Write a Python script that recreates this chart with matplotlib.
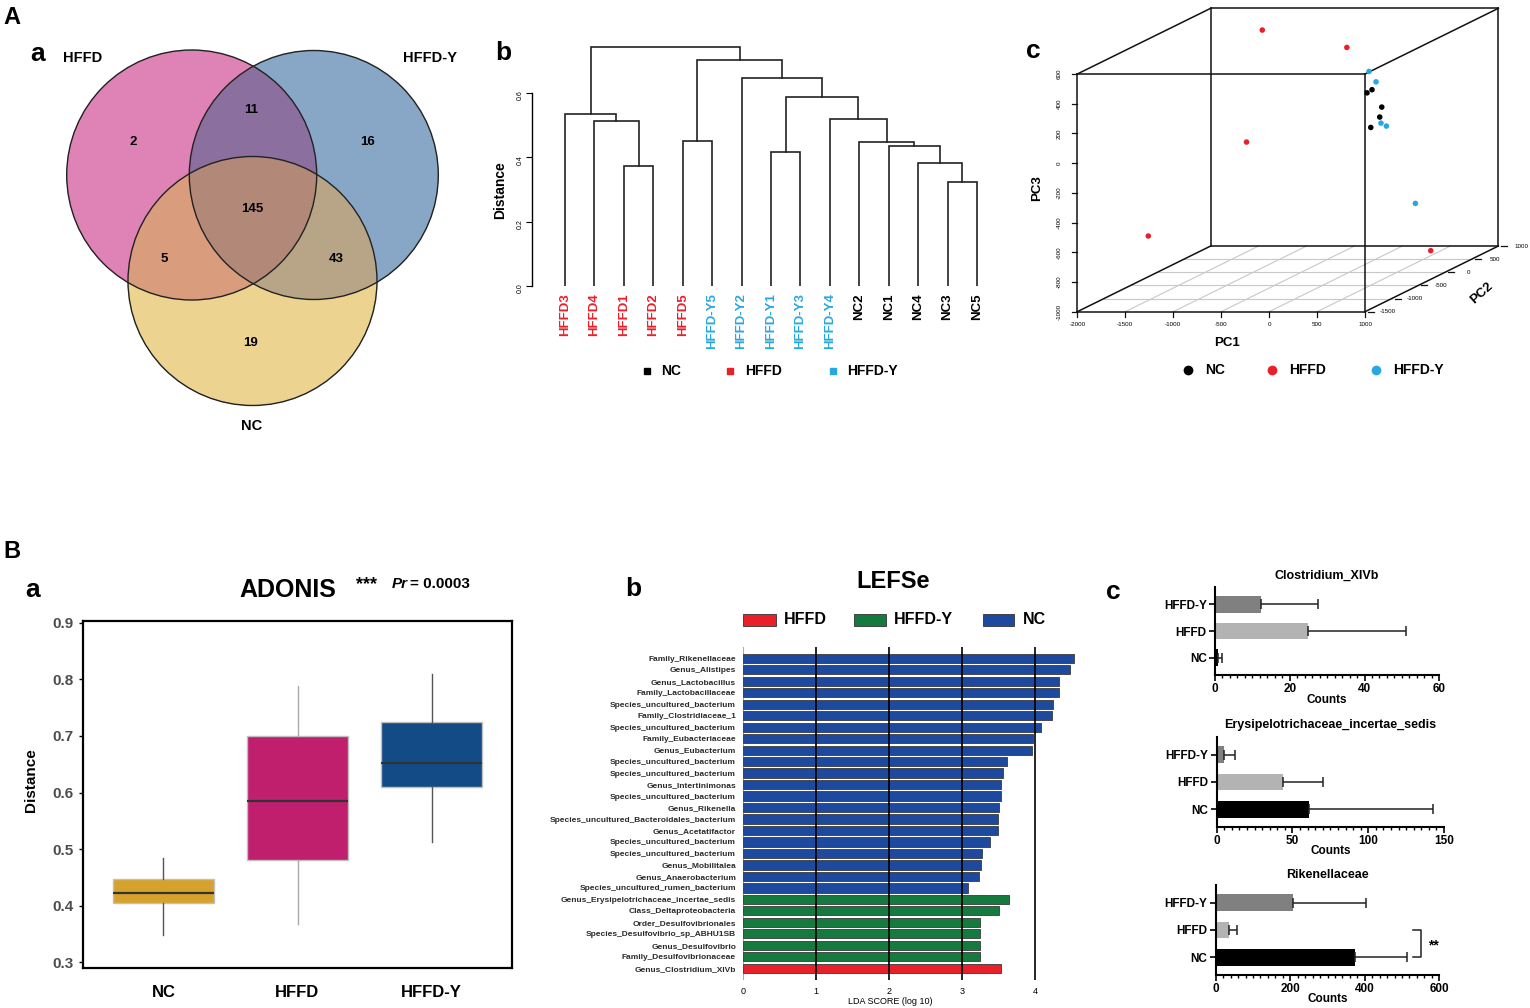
import numpy as np
import matplotlib.pyplot as plt
from matplotlib.patches import Circle, Rectangle
from matplotlib.lines import Line2D
from matplotlib.colors import to_rgba
from matplotlib.ticker import MultipleLocator

plt.rcParams['font.family'] = ['Liberation Sans', 'DejaVu Sans']

# ---------------- data ----------------
# A-a venn: HFFD only, HFFD-Y only, NC only, HFFD&HFFD-Y, HFFD&NC, HFFD-Y&NC, all three
venn_sets = ['HFFD', 'HFFD-Y', 'NC']
venn_counts = [2, 16, 19, 11, 5, 43, 145]

# A-b dendrogram
leaf_labels = ['HFFD3', 'HFFD4', 'HFFD1', 'HFFD2', 'HFFD5', 'HFFD-Y5', 'HFFD-Y2',
               'HFFD-Y1', 'HFFD-Y3', 'HFFD-Y4', 'NC2', 'NC1', 'NC4', 'NC3', 'NC5']
merge_left = [2, 1, 0, 4, 7, 13, 12, 11, 10, 9, 19, 6, 18, 17]
merge_right = [3, 15, 16, 5, 8, 14, 20, 21, 22, 23, 24, 25, 26, 27]
merge_height = [0.373, 0.513, 0.534, 0.451, 0.416, 0.323, 0.381, 0.436, 0.449,
                0.519, 0.587, 0.646, 0.703, 0.744]

# A-c PCA
pca_group = ['HFFD'] * 5 + ['HFFD-Y'] * 5 + ['NC'] * 5
pc1 = [-1184, -302, -792, -1677, 503, 903, 976, 958, 945, 969, 882, 934, 966, 945, 921]
pc2 = [500, 500, -500, -750, 625, -1250, -1250, -1125, -1000, -500, -1250, -1250, -1125, -1125, -1250]
pc3 = [542, 425, -35, -623, -965, 573, 503, 203, 161, -448, 429, 450, 311, 244, 196]

# B-a boxplot (ADONIS distances)
box_groups = ['NC', 'HFFD', 'HFFD-Y']
box_whislo = [0.348, 0.367, 0.512]
box_q1 = [0.404, 0.480, 0.610]
box_med = [0.422, 0.585, 0.652]
box_q3 = [0.448, 0.699, 0.725]
box_whishi = [0.485, 0.789, 0.809]

# B-b LEfSe
lefse_taxa = ['Family_Rikenellaceae', 'Genus_Alistipes', 'Genus_Lactobacillus',
              'Family_Lactobacillaceae', 'Species_uncultured_bacterium',
              'Family_Clostridiaceae_1', 'Species_uncultured_bacterium',
              'Family_Eubacteriaceae', 'Genus_Eubacterium', 'Species_uncultured_bacterium',
              'Species_uncultured_bacterium', 'Genus_Intertinimonas',
              'Species_uncultured_bacterium', 'Genus_Rikenella',
              'Species_uncultured_Bacteroidales_bacterium', 'Genus_Acetatifactor',
              'Species_uncultured_bacterium', 'Species_uncultured_bacterium',
              'Genus_Mobilitalea', 'Genus_Anaerobacterium',
              'Species_uncultured_rumen_bacterium',
              'Genus_Erysipelotrichaceae_incertae_sedis', 'Class_Deltaproteobacteria',
              'Order_Desulfovibrionales', 'Species_Desulfovibrio_sp_ABHU1SB',
              'Genus_Desulfovibrio', 'Family_Desulfovibrionaceae', 'Genus_Clostridium_XIVb']
lefse_lda = [4.53, 4.48, 4.33, 4.33, 4.25, 4.24, 4.09, 3.97, 3.96, 3.62, 3.56, 3.53,
             3.53, 3.51, 3.50, 3.49, 3.38, 3.27, 3.26, 3.23, 3.08,
             3.64, 3.51, 3.25, 3.25, 3.25, 3.25, 3.54]
lefse_group = ['NC'] * 21 + ['HFFD-Y'] * 6 + ['HFFD']

# B-c counts (order NC, HFFD, HFFD-Y)
count_groups = ['NC', 'HFFD', 'HFFD-Y']
clos_mean = [0.8, 25.0, 12.3]
clos_err = [1.0, 26.0, 15.2]
erys_mean = [60.7, 44.0, 4.8]
erys_err = [81.8, 26.0, 7.1]
rike_mean = [374, 36.7, 208]
rike_err = [138, 21.3, 194]

# ---------------- layout helpers ----------------
W, H = 1530, 1008
fig = plt.figure(figsize=(W / 100, H / 100), dpi=100)
fig.patch.set_facecolor('white')


def rect(x0, y0, x1, y1):
    return [x0 / W, 1 - y1 / H, (x1 - x0) / W, (y1 - y0) / H]


def ftext(x, y, s, **kw):
    kw.setdefault('ha', 'center')
    kw.setdefault('va', 'center')
    return fig.text(x / W, 1 - y / H, s, **kw)


def fmark(x, y, **kw):
    fig.add_artist(Line2D([x / W], [1 - y / H], transform=fig.transFigure, ls='none', **kw))


grp_color = {'NC': 'black', 'HFFD': '#e8202a', 'HFFD-Y': '#29a8e0'}

ftext(12, 17, 'A', fontsize=17, fontweight='bold')
ftext(12, 552, 'B', fontsize=17, fontweight='bold')

# ---------------- A-a venn ----------------
axv = fig.add_axes(rect(60, 40, 450, 420))
axv.set_xlim(60, 450)
axv.set_ylim(420, 40)
axv.axis('off')
circles = [(191.7, 175, 125), (313.8, 175, 124.5), (252.5, 281, 124.5)]
region_codes = [1, 2, 4, 3, 5, 6, 7]
region_colors = ['#e083b7', '#88a7c6', '#ecd38f', '#8a6fa0', '#da9c7c', '#b9a486', '#b28878']
gx, gy = np.meshgrid(np.linspace(60, 450, 1170), np.linspace(40, 420, 1140))
code = np.zeros(gx.shape, dtype=int)
for bit, (cx, cy, r) in zip([1, 2, 4], circles):
    code |= (((gx - cx) ** 2 + (gy - cy) ** 2) <= r ** 2).astype(int) * bit
lut = np.zeros((8, 4))
for c, col in zip(region_codes, region_colors):
    lut[c] = to_rgba(col)
axv.imshow(lut[code], extent=(60, 450, 420, 40), origin='upper', aspect='auto',
           interpolation='antialiased')
for cx, cy, r in circles:
    axv.add_patch(Circle((cx, cy), r, fill=False, ec='#222222', lw=1.0))
count_pos = [(132.7, 142.3), (367.3, 142.3), (251, 343), (250.7, 110),
             (164, 259), (336, 259), (252.7, 209.3)]
for (x, y), n in zip(count_pos, venn_counts):
    axv.text(x, y, str(n), ha='center', va='center', fontsize=9.5, fontweight='bold')
ftext(38, 54, 'a', fontsize=19, fontweight='bold')
ftext(83, 58, venn_sets[0], fontsize=10.5, fontweight='bold')
ftext(430, 58, venn_sets[1], fontsize=10.5, fontweight='bold')
ftext(252, 426, venn_sets[2], fontsize=10.5, fontweight='bold')

# ---------------- A-b dendrogram ----------------
axd = fig.add_axes(rect(532, 40, 1000, 286))
pos = list(range(len(leaf_labels)))
hgt = [0.0] * len(leaf_labels)
for l, r, h in zip(merge_left, merge_right, merge_height):
    axd.plot([pos[l], pos[l], pos[r], pos[r]], [hgt[l], h, h, hgt[r]],
             color='#222222', lw=1.2, solid_joinstyle='miter')
    pos.append((pos[l] + pos[r]) / 2)
    hgt.append(h)
axd.set_xlim(-1.121, 14.78)
axd.set_ylim(0, 0.765)
for s in ['top', 'right', 'bottom']:
    axd.spines[s].set_visible(False)
axd.spines['left'].set_bounds(0, 0.6)
axd.spines['left'].set_linewidth(1.0)
axd.set_xticks([])
axd.set_yticks([0, 0.2, 0.4, 0.6], ['0.0', '0.2', '0.4', '0.6'])
axd.tick_params(axis='y', labelsize=5, labelrotation=90, length=4, pad=2)
for i, lab in enumerate(leaf_labels):
    g = 'HFFD-Y' if lab.startswith('HFFD-Y') else ('HFFD' if lab.startswith('HFFD') else 'NC')
    axd.text(i, -0.022, lab, rotation=90, ha='center', va='top', fontsize=9.5,
             fontweight='bold', color=grp_color[g], clip_on=False)
ftext(500, 190, 'Distance', rotation=90, fontsize=10, fontweight='bold')
ftext(503, 53, 'b', fontsize=19, fontweight='bold')
for xm, xt, g in [(647, 661, 'NC'), (730, 745, 'HFFD'), (833, 847, 'HFFD-Y')]:
    fmark(xm, 371, marker='s', ms=5, color=grp_color[g])
    ftext(xt, 371, g, ha='left', fontsize=10, fontweight='bold')

# ---------------- A-c PCA (oblique 3D box) ----------------
axp = fig.add_axes(rect(1040, 0, 1530, 345))
axp.set_xlim(1040, 1530)
axp.set_ylim(345, 0)
axp.axis('off')
X0, X1, Y0, Y1, Z0, Z1 = -2000, 1000, -1500, 1000, -1000, 600


def proj(p1, p2, p3):
    p1, p2, p3 = np.asarray(p1, float), np.asarray(p2, float), np.asarray(p3, float)
    d = (p2 - Y0) / (Y1 - Y0)
    px = 1077.3 + (p1 - X0) / (X1 - X0) * 287.7 + d * 133.4
    py = 311.7 - (p3 - Z0) / (Z1 - Z0) * 237.7 - d * 65.7
    return px, py


def seg(a, b, **kw):
    xa, ya = proj(*a)
    xb, yb = proj(*b)
    axp.plot([xa, xb], [ya, yb], **kw)


grid_kw = dict(color='#c8c8c8', lw=0.8, zorder=1)
for v in [-1000, -500, 0, 500]:
    seg((X0, v, Z0), (X1, v, Z0), **grid_kw)
for v in [-1500, -1000, -500, 0, 500]:
    seg((v, Y0, Z0), (v, Y1, Z0), **grid_kw)
edge_kw = dict(color='#111111', lw=1.1, zorder=2)
for y in [Y0, Y1]:
    seg((X0, y, Z1), (X1, y, Z1), **edge_kw)
    seg((X0, y, Z0), (X0, y, Z1), **edge_kw)
    seg((X1, y, Z0), (X1, y, Z1), **edge_kw)
    seg((X0, y, Z0), (X1, y, Z0), **edge_kw)
for x in [X0, X1]:
    for z in [Z0, Z1]:
        seg((x, Y0, z), (x, Y1, z), **edge_kw)
# ticks
for v in range(X0, X1 + 1, 500):
    x, y = proj(v, Y0, Z0)
    axp.plot([x, x], [y, y + 5], color='#111111', lw=0.9)
    axp.text(x, y + 13, str(v), ha='center', va='center', fontsize=4.5)
for v in range(Z0, Z1 + 1, 200):
    x, y = proj(X0, Y0, v)
    axp.plot([x, x - 5], [y, y], color='#111111', lw=0.9)
    axp.text(x - 18, y, str(v), ha='center', va='center', fontsize=4.5, rotation=90)
for v in range(Y0, Y1 + 1, 500):
    x, y = proj(X1, v, Z0)
    axp.plot([x + 3, x + 9], [y, y], color='#111111', lw=0.9)
    axp.text(x + 23, y, str(v), ha='center', va='center', fontsize=4.5)
px_, py_ = proj(pc1, pc2, pc3)
axp.scatter(px_, py_, s=16, c=[grp_color[g] for g in pca_group], zorder=5, linewidths=0)
ftext(1227, 343, 'PC1', fontsize=9.5, fontweight='bold')
ftext(1037, 188, 'PC3', fontsize=9.5, fontweight='bold', rotation=90)
ftext(1482, 293, 'PC2', fontsize=9.5, fontweight='bold', rotation=42)
ftext(1033, 51, 'c', fontsize=19, fontweight='bold')
for xm, xt, g in [(1188, 1205, 'NC'), (1272, 1289, 'HFFD'), (1376, 1393, 'HFFD-Y')]:
    fmark(xm, 370, marker='o', ms=7, color=grp_color[g], mew=0)
    ftext(xt, 370, g, ha='left', fontsize=10, fontweight='bold')

# ---------------- B-a boxplot ----------------
axb = fig.add_axes(rect(83, 621, 512, 968))
stats = [dict(whislo=a, q1=b, med=c, q3=d, whishi=e, label=g)
         for a, b, c, d, e, g in zip(box_whislo, box_q1, box_med, box_q3, box_whishi, box_groups)]
bp = axb.bxp(stats, positions=[1, 2, 3], widths=0.75, patch_artist=True,
             showcaps=False, showfliers=False)
box_colors = ['#d6a22c', '#c01f6e', '#124b86']
whisk_colors = ['#555555', '#aaaaaa', '#555555']
for i, patch in enumerate(bp['boxes']):
    patch.set_facecolor(box_colors[i])
    patch.set_edgecolor('#c0c0c0')
    patch.set_linewidth(1.0)
    bp['medians'][i].set_color('#333333')
    bp['medians'][i].set_linewidth(1.6)
    for w in bp['whiskers'][2 * i:2 * i + 2]:
        w.set_color(whisk_colors[i])
        w.set_linewidth(1.0)
axb.set_xlim(0.4, 3.6)
axb.set_ylim(0.29, 0.903)
axb.set_yticks([0.3, 0.4, 0.5, 0.6, 0.7, 0.8, 0.9])
axb.set_yticklabels(['0.3', '0.4', '0.5', '0.6', '0.7', '0.8', '0.9'],
                    fontsize=11, fontweight='bold', color='#4d4d4d')
axb.set_xticks([1, 2, 3])
axb.set_xticklabels(box_groups, fontsize=12, fontweight='bold')
axb.tick_params(axis='x', length=0, pad=12)
axb.tick_params(axis='y', length=3, width=1, pad=4)
for s in axb.spines.values():
    s.set_linewidth(1.6)
ftext(31, 780, 'Distance', rotation=90, fontsize=11, fontweight='bold')
ftext(33, 590, 'a', fontsize=19, fontweight='bold')
ftext(288, 590, 'ADONIS', fontsize=18, fontweight='bold')
ftext(366, 585, '***', fontsize=13, fontweight='bold')
ftext(392, 584, 'Pr', ha='left', fontsize=11, fontweight='bold', style='italic')
ftext(410, 584, '= 0.0003', ha='left', fontsize=11, fontweight='bold')

# ---------------- B-b LEfSe ----------------
lefse_colors = {'NC': '#1d4a9e', 'HFFD-Y': '#157a3e', 'HFFD': '#e8202a'}
axl = fig.add_axes(rect(743, 647, 1100, 980))
ypos = np.arange(len(lefse_taxa))
axl.barh(ypos, lefse_lda, height=0.8, color=[lefse_colors[g] for g in lefse_group],
         edgecolor='#3a3a3a', linewidth=0.6, zorder=2)
for v in [1, 2, 3, 4]:
    axl.axvline(v, color='black', lw=1.2, zorder=3)
axl.axvline(0, color='#aaaaaa', lw=0.8, zorder=1)
axl.set_xlim(0, 4.893)
axl.set_ylim(28.02, -0.98)
for s in axl.spines.values():
    s.set_visible(False)
axl.set_yticks(ypos)
axl.set_yticklabels(lefse_taxa, fontsize=6.0, fontweight='bold', color='#2a2a2a')
axl.set_xticks([0, 1, 2, 3, 4])
axl.set_xticklabels(['0', '1', '2', '3', '4'], fontsize=6.5)
axl.tick_params(axis='y', length=0, pad=5)
axl.tick_params(axis='x', length=0, pad=5)
ftext(890, 1001, 'LDA SCORE (log 10)', fontsize=6.5)
ftext(633, 589, 'b', fontsize=19, fontweight='bold')
ftext(893, 581, 'LEFSe', fontsize=17, fontweight='bold')
for x0, x1, xt, g in [(743, 776, 784, 'HFFD'), (854, 886, 894, 'HFFD-Y'), (983, 1014, 1023, 'NC')]:
    fig.add_artist(Rectangle((x0 / W, 1 - 626 / H), (x1 - x0) / W, 12 / H,
                             transform=fig.transFigure, facecolor=lefse_colors[g],
                             edgecolor='#333333', lw=0.6))
    ftext(xt, 620, g, ha='left', fontsize=11.5, fontweight='bold')

# ---------------- B-c count bars ----------------
count_colors = ['black', '#b3b3b3', '#808080']


def count_panel(box, title, means, errs, xmax, step, title_y, counts_y):
    ax = fig.add_axes(rect(*box))
    yy = np.arange(3)
    ax.barh(yy, means, height=0.62, color=count_colors, zorder=2)
    ax.errorbar(means, yy, xerr=[np.zeros(3), errs], fmt='none', ecolor='#222222',
                elinewidth=1.1, capsize=3.5, capthick=1.1, zorder=3)
    ax.set_xlim(0, xmax)
    ax.set_ylim(-0.65, 2.65)
    ax.set_xticks(np.arange(0, xmax + 1, step))
    ax.xaxis.set_minor_locator(MultipleLocator(step / 10))
    ax.set_yticks(yy)
    ax.set_yticklabels(count_groups, fontsize=8.5, fontweight='bold')
    for t in ax.get_xticklabels():
        t.set_fontsize(8.5)
        t.set_fontweight('bold')
    ax.tick_params(axis='both', which='major', length=4, width=1.2, pad=2)
    ax.tick_params(axis='x', which='minor', length=2.5, width=1.0)
    for s in ['top', 'right']:
        ax.spines[s].set_visible(False)
    for s in ['left', 'bottom']:
        ax.spines[s].set_linewidth(1.5)
    cx = (box[0] + box[2]) / 2
    ftext(cx, title_y, title, fontsize=9, fontweight='bold')
    ftext(cx, counts_y, 'Counts', fontsize=8.5, fontweight='bold')
    return ax


count_panel((1215, 587, 1439.3, 675), 'Clostridium_XIVb', clos_mean, clos_err,
            60, 20, 576, 700)
count_panel((1216.7, 737, 1444, 827), 'Erysipelotrichaceae_incertae_sedis', erys_mean,
            erys_err, 150, 50, 725, 851)
axr = count_panel((1215.7, 885, 1439.3, 975), 'Rikenellaceae', rike_mean, rike_err,
                  600, 200, 875, 999)
axr.plot([530, 550, 550, 530], [1, 1, 0, 0], color='#222222', lw=1.1, clip_on=False)
axr.text(585, 0.45, '**', ha='center', va='center', fontsize=10, fontweight='bold')
ftext(1113, 592, 'c', fontsize=19, fontweight='bold')

fig.savefig('out.png', dpi=100)
